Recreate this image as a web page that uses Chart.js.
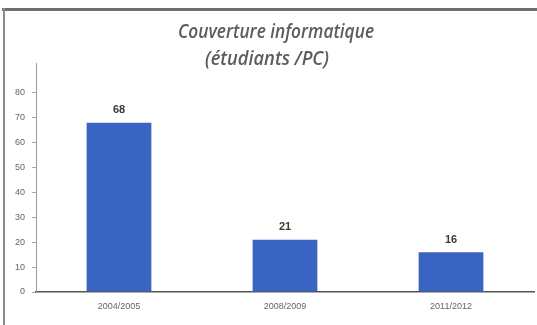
<!DOCTYPE html>
<html>
<head>
<meta charset="utf-8">
<script src="https://cdn.jsdelivr.net/npm/chart.js@4.4.0/dist/chart.umd.min.js"></script>
<style>
  body { margin: 0; background: #fff; }
  #wrap { width: 537px; height: 325px; position: relative; }
</style>
</head>
<body>
<div id="wrap"><canvas id="chart" width="537" height="325"></canvas></div>
<script>
var years = ["2004/2005", "2008/2009", "2011/2012"];
var studentsPerPC = [68, 21, 16];
var titleLines = ["Couverture informatique", "(étudiants /PC)"];

// frame, title and value labels
var decor = {
    id: "decor",
    beforeDraw: function (chart) {
        var ctx = chart.ctx;
        ctx.save();
        ctx.fillStyle = "#ffffff";
        ctx.fillRect(0, 0, chart.width, chart.height);
        ctx.fillStyle = "#6a6e6c";
        ctx.fillRect(2, 8, chart.width - 2, 3);
        ctx.fillStyle = "#8a8a8a";
        ctx.fillRect(3, 8, 2, chart.height - 8);
        ctx.restore();
    },
    afterDraw: function (chart) {
        var ctx = chart.ctx;
        ctx.save();
        ctx.fillStyle = "#5c5c5c";
        ctx.textAlign = "center";
        ctx.textBaseline = "middle";
        ctx.font = "italic 600 19px 'Open Sans', 'Liberation Sans', sans-serif";
        ctx.fillText(titleLines[0], 276, 33, 196);
        ctx.fillText(titleLines[1], 267, 60, 124);

        var meta = chart.getDatasetMeta(0);
        ctx.fillStyle = "#3a3a3a";
        ctx.font = "bold 11px 'Liberation Sans', Arial, sans-serif";
        ctx.textBaseline = "bottom";
        meta.data.forEach(function (bar, i) {
            ctx.fillText(studentsPerPC[i], bar.x, bar.y - 7);
        });
        ctx.restore();
    }
};

new Chart(document.getElementById("chart"), {
    type: "bar",
    data: {
        labels: years,
        datasets: [
            {
                data: studentsPerPC,
                backgroundColor: "#3a64c2",
                borderWidth: 0,
                categoryPercentage: 1,
                barPercentage: 0.39
            }
        ]
    },
    options: {
        responsive: false,
        animation: false,
        layout: {
            padding: { top: 63, right: 3, bottom: 0, left: 0 }
        },
        plugins: {
            legend: { display: false },
            tooltip: { enabled: false }
        },
        scales: {
            x: {
                afterFit: function (scale) { scale.height = 33; },
                grid: { display: false, drawTicks: false },
                border: { color: "#555555", width: 1.5 },
                ticks: {
                    color: "#666666",
                    padding: 9,
                    font: { size: 9, family: "'Liberation Sans', Arial, sans-serif" }
                }
            },
            y: {
                min: 0,
                max: 92,
                afterFit: function (scale) { scale.width = 36; },
                afterBuildTicks: function (scale) {
                    scale.ticks = scale.ticks.filter(function (t) { return t.value <= 80; });
                },
                grid: { drawOnChartArea: false, tickLength: 4, color: "#aaaaaa" },
                border: { color: "#999999", width: 1 },
                ticks: {
                    stepSize: 10,
                    color: "#666666",
                    padding: 7,
                    font: { size: 9, family: "'Liberation Sans', Arial, sans-serif" }
                }
            }
        }
    },
    plugins: [decor]
});
</script>
</body>
</html>
